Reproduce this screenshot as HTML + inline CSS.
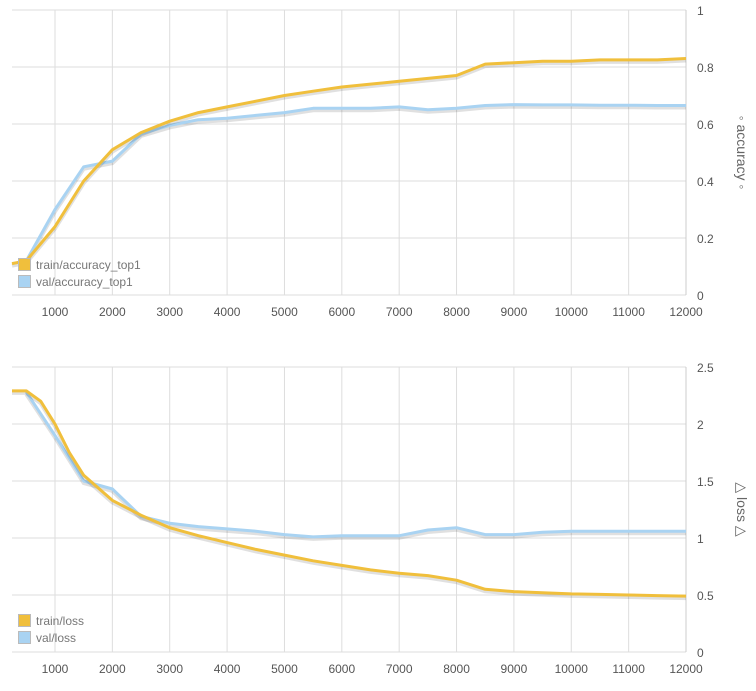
<!DOCTYPE html>
<html><head><meta charset="utf-8"><style>
body{margin:0;background:#fff;width:756px;height:686px;overflow:hidden;font-family:"Liberation Sans",sans-serif}
svg text{font-family:"Liberation Sans",sans-serif}
</style></head><body>
<svg id="c" width="756" height="686"></svg>
<script>
const steps1=[250,500,1000,1500,2000,2500,3000,3500,4000,4500,5000,5500,6000,6500,7000,7500,8000,8500,9000,9500,10000,10500,11000,11500,12000];
const trainAcc=[0.11,0.12,0.24,0.40,0.51,0.57,0.61,0.64,0.66,0.68,0.70,0.715,0.73,0.74,0.75,0.76,0.77,0.81,0.815,0.82,0.82,0.825,0.825,0.825,0.83];
const valSteps=[500,1000,1500,2000,2500,3000,3500,4000,4500,5000,5500,6000,6500,7000,7500,8000,8500,9000,9500,10000,10500,11000,11500,12000];
const valAcc=[0.12,0.30,0.45,0.47,0.565,0.595,0.615,0.62,0.63,0.64,0.655,0.655,0.655,0.66,0.65,0.655,0.665,0.668,0.667,0.667,0.666,0.666,0.665,0.665];
const lossSteps=[250,500,750,1000,1250,1500,2000,2500,3000,3500,4000,4500,5000,5500,6000,6500,7000,7500,8000,8500,9000,9500,10000,10500,11000,11500,12000];
const trainLoss=[2.29,2.29,2.2,2.0,1.75,1.55,1.33,1.2,1.09,1.02,0.96,0.9,0.85,0.8,0.76,0.72,0.69,0.67,0.63,0.55,0.53,0.52,0.51,0.505,0.5,0.495,0.49];
const valLossSteps=[500,1000,1500,2000,2500,3000,3500,4000,4500,5000,5500,6000,6500,7000,7500,8000,8500,9000,9500,10000,10500,11000,11500,12000];
const valLoss=[2.28,1.9,1.5,1.43,1.19,1.13,1.1,1.08,1.06,1.03,1.01,1.02,1.02,1.02,1.07,1.09,1.03,1.03,1.05,1.06,1.06,1.06,1.06,1.06];
const xTicks=[1000,2000,3000,4000,5000,6000,7000,8000,9000,10000,11000,12000];
const accTicks=[0,0.2,0.4,0.6,0.8,1];
const lossTicks=[0,0.5,1,1.5,2,2.5];

const NS="http://www.w3.org/2000/svg";
const svg=document.getElementById('c');
const L=12,R=686;
const xs=v=>55+(v-1000)*(R-55)/11000;
function mk(t,a,p){const e=document.createElementNS(NS,t);for(const k in a)e.setAttribute(k,a[k]);(p||svg).appendChild(e);return e;}
function chart(top,bot,maxY,ticks,series,title,legend,legY){
  const g=mk('g',{});
  
  
  const ys=v=>bot-(v/maxY)*(bot-top);
  ticks.forEach(t=>{mk('line',{x1:L,x2:R,y1:ys(t),y2:ys(t),stroke:'#ddd','stroke-width':1},g);
    const tx=mk('text',{x:697,y:ys(t)+5,'font-size':12,fill:'#555'},g);tx.textContent=t;
    
    });
  xTicks.forEach(t=>{mk('line',{x1:xs(t),x2:xs(t),y1:top,y2:bot,stroke:'#ddd','stroke-width':1},g);
    const tx=mk('text',{x:xs(t),y:bot+21,'font-size':12,fill:'#555','text-anchor':'middle'},g);tx.textContent=t;
    
    });
  mk('line',{x1:R,x2:R,y1:top,y2:bot,stroke:'#ccc'},g);
  series.forEach(s=>{
    const d=s.x.map((v,i)=>(i?'L':'M')+xs(v).toFixed(1)+','+ys(s.y[i]).toFixed(1)).join('');
    mk('path',{d:d,fill:'none',stroke:'rgba(0,0,0,0.12)','stroke-width':4,transform:'translate(0,2)'},g);
    const p=mk('path',{d:d,fill:'none',stroke:s.c,'stroke-width':3,'stroke-linejoin':'round'},g);
    
    
  });
  const at=mk('text',{transform:`translate(737,${(top+bot)/2}) rotate(90)`,'font-size':14,fill:'#666','text-anchor':'middle'},g);
  at.textContent=title;
  
  
  legend.forEach((l,i)=>{
    const r=mk('rect',{x:18.5,y:legY+i*17-5.5,width:12,height:12,fill:l.c,stroke:'#bbb'},g);
    
    
    const t=mk('text',{x:36,y:legY+i*17+5,'font-size':12,fill:'#777'},g);t.textContent=l.n;
    
    
  });
}
const Y='#f0bf3c',B='#a9d3f2';
chart(10,295,1,accTicks,[{x:valSteps,y:valAcc,c:B,n:'val-accuracy'},{x:steps1,y:trainAcc,c:Y,n:'train-accuracy'}],'◦ accuracy ◦',[{c:Y,n:'train/accuracy_top1'},{c:B,n:'val/accuracy_top1'}],264);
chart(367,652,2.5,lossTicks,[{x:valLossSteps,y:valLoss,c:B,n:'val-loss'},{x:lossSteps,y:trainLoss,c:Y,n:'train-loss'}],'△ loss △',[{c:Y,n:'train/loss'},{c:B,n:'val/loss'}],620);
</script>
</body></html>
